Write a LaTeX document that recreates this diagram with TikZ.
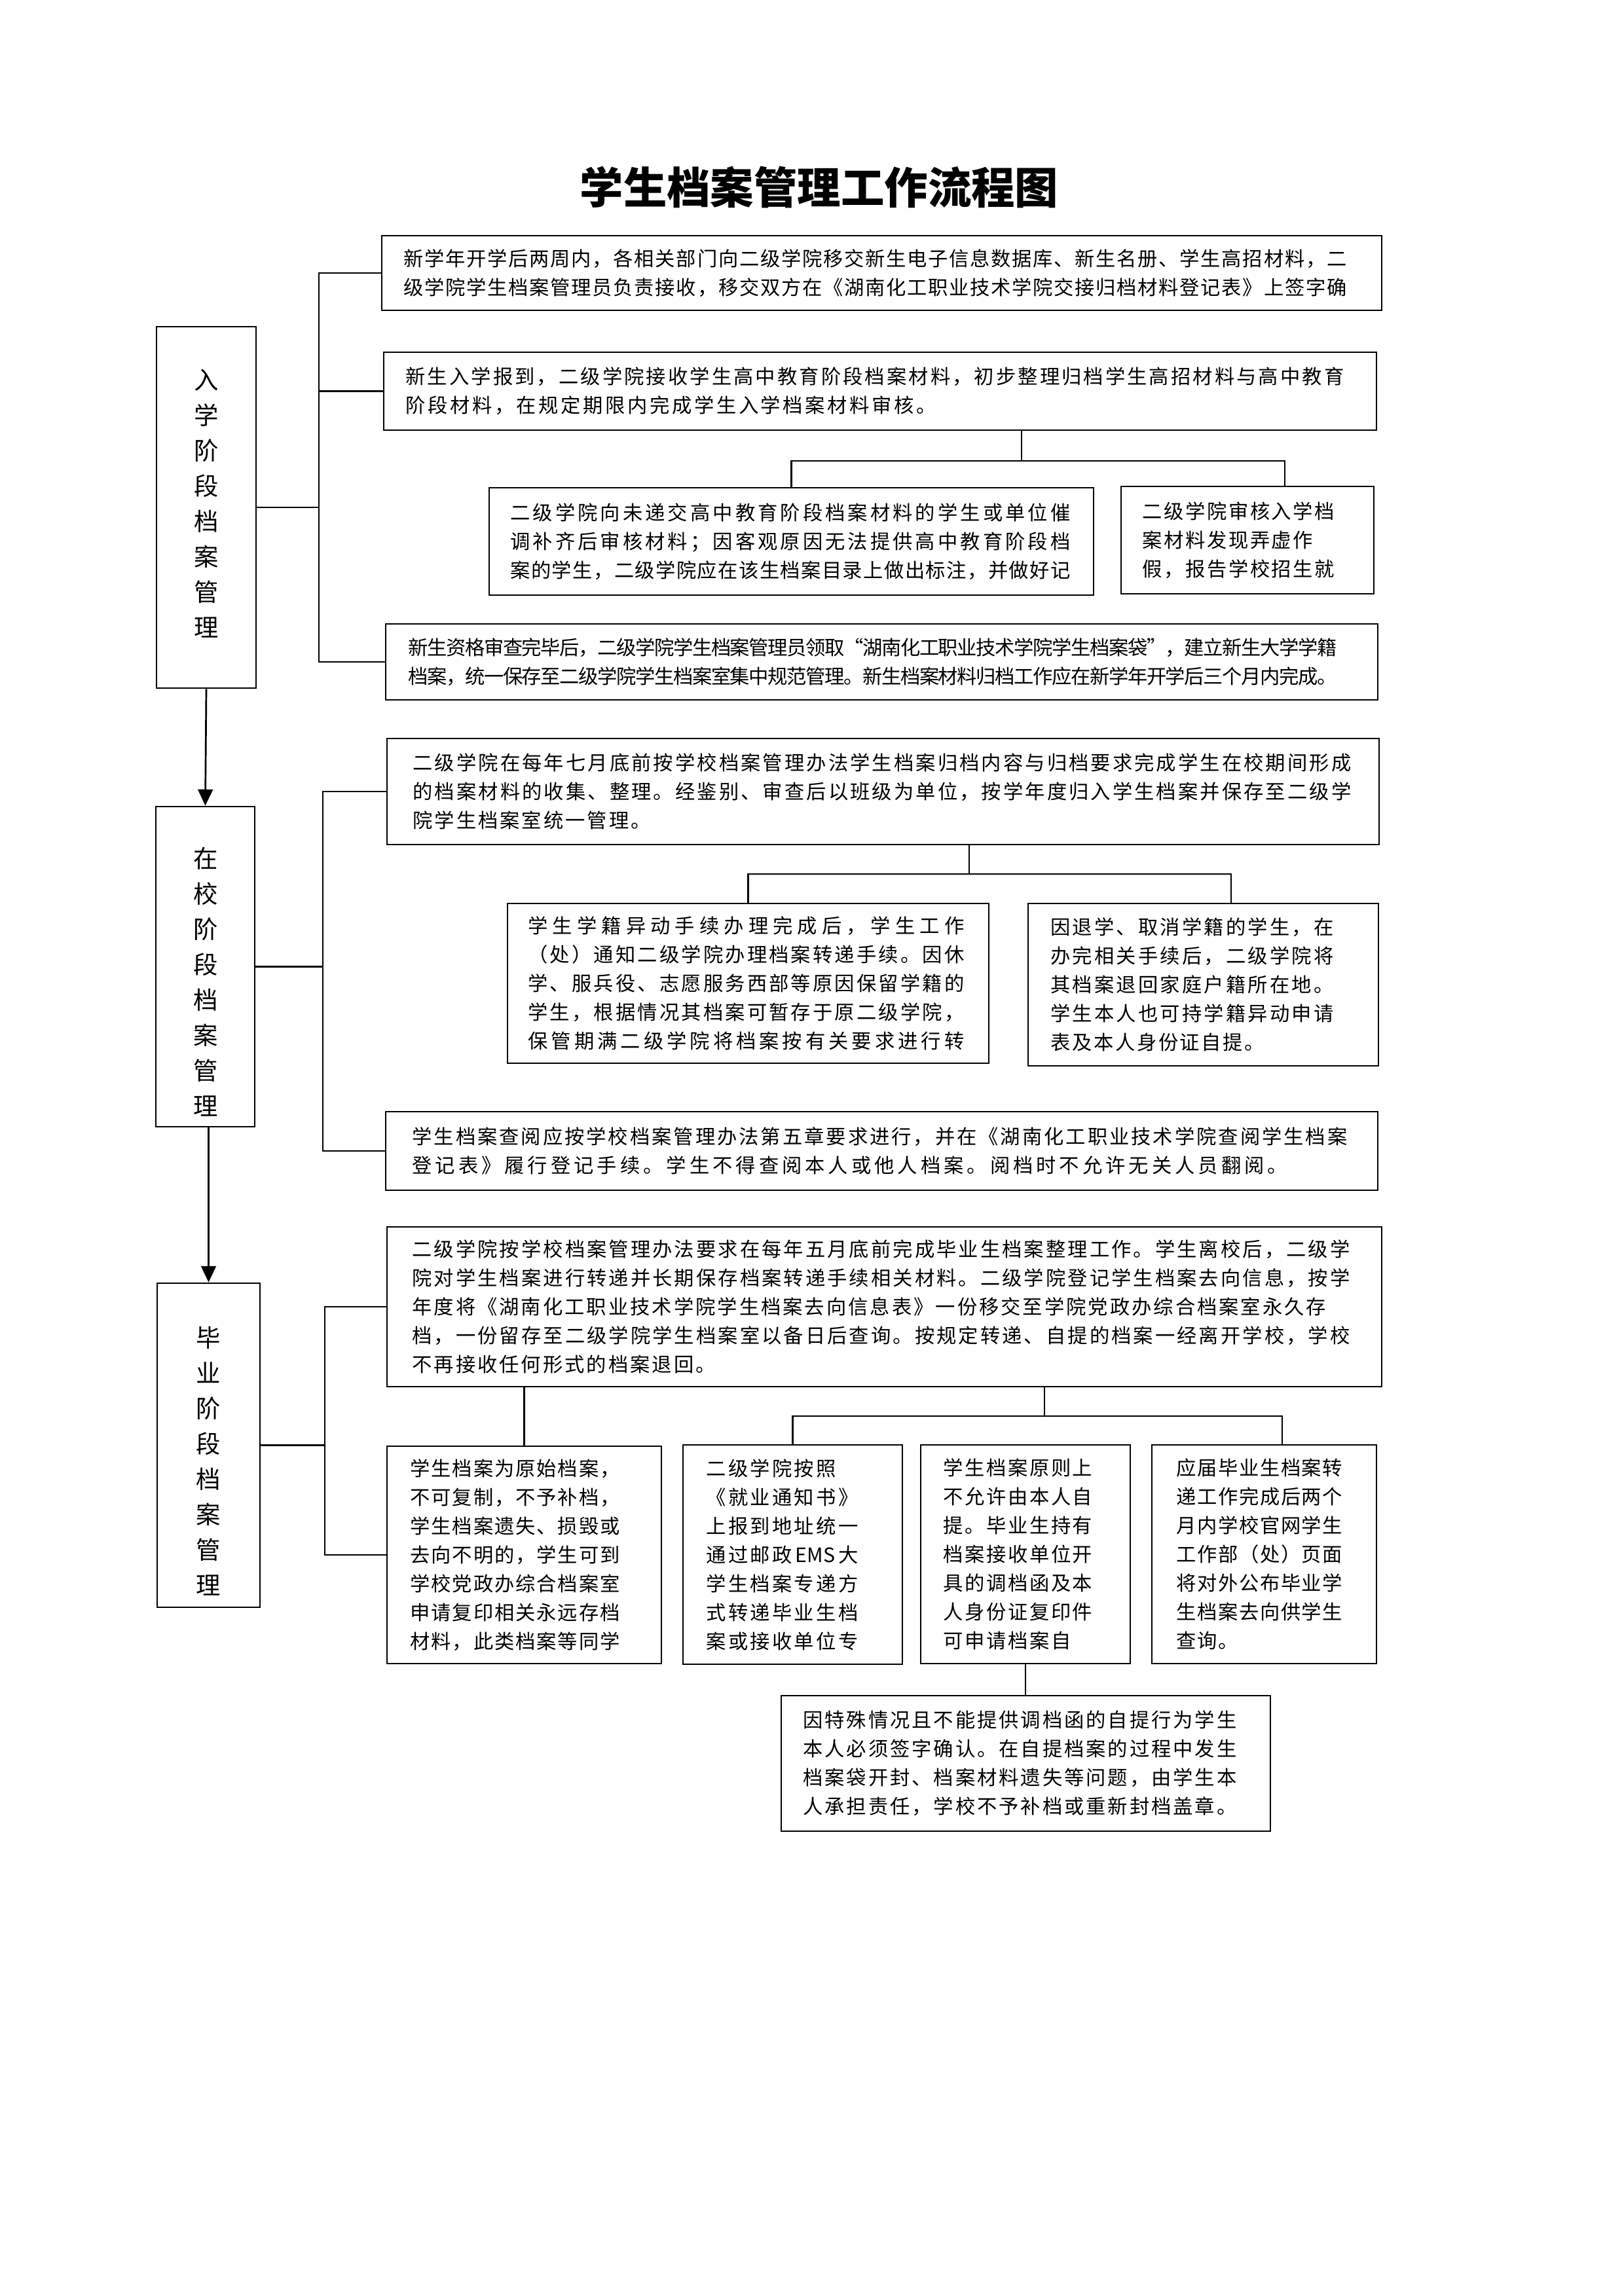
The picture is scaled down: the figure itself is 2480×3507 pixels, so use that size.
\documentclass[tikz,border=0pt]{standalone}
\usepackage{fontspec}
\setmainfont{Noto Sans CJK SC}
\usetikzlibrary{arrows.meta,fit}
\newdimen\px \px=0.24090pt
\newdimen\linew
\newdimen\trk
\def\spEnd{\spEnd}
\def\spA#1{\ifx#1\spEnd\else#1\expandafter\spB\fi}
\def\spB#1{\ifx#1\spEnd\else\spglue#1\expandafter\spB\fi}
\newcommand\FL[1]{\hbox to \linew{\def\spglue{\hskip 0pt plus 1fil minus 4\px}\spA#1\spEnd}}
\newcommand\LL[1]{\hbox{\def\spglue{\hskip\trk}\spA#1\spEnd}}
\def\EMS{\hbox to 64\px{\hss EMS\hss}}
\newcommand\TB[3]{\linew=#1\px\trk=#2\px\vbox{#3}}
\tikzset{
  box/.style={draw, line width=0.65pt, inner sep=0pt},
  txt/.style={inner sep=0pt, font=\fontsize{7.3pt}{10.6pt}\selectfont},
  vt/.style={inner sep=0pt, align=center, font=\fontsize{9pt}{13pt}\selectfont},
  con/.style={line width=0.65pt},
  arr/.style={line width=0.65pt, -{Triangle[length=6pt,width=5.5pt]}}
}
\begin{document}
\begin{tikzpicture}[x=0.24090pt,y=-0.24090pt]
\fill[white] (0,0) rectangle (2480,3507);
\useasboundingbox (0,0) rectangle (2480,3507);

\node[font=\fontsize{16pt}{16pt}\selectfont\bfseries] (title) at (1251,286) {学生档案管理工作流程图};

% ---------- boxes ----------
\node[box, fit={(583,360) (2110,474)}] (b1) {};
\node[box, fit={(586,538) (2102,657)}] (b2) {};
\node[box, fit={(747,745) (1670,909)}] (b3) {};
\node[box, fit={(1712,743) (2098,907)}] (b4) {};
\node[box, fit={(589,953) (2104,1069)}] (b5) {};
\node[box, fit={(239,499) (391,1051)}] (L1) {};

\node[box, fit={(591,1128) (2106,1290)}] (b6) {};
\node[box, fit={(775,1380) (1510,1624)}] (b7) {};
\node[box, fit={(1570,1380) (2105,1628)}] (b8) {};
\node[box, fit={(589,1698) (2104,1818)}] (b9) {};
\node[box, fit={(238,1232) (389,1721)}] (L2) {};

\node[box, fit={(591,1874) (2110,2118)}] (b10) {};
\node[box, fit={(240,1960) (397,2455)}] (L3) {};
\node[box, fit={(591,2209) (1010,2541)}] (b11) {};
\node[box, fit={(1043,2207) (1378,2542)}] (b12) {};
\node[box, fit={(1406,2207) (1726,2541)}] (b13) {};
\node[box, fit={(1759,2207) (2102,2541)}] (b14) {};
\node[box, fit={(1193,2590) (1940,2797)}] (b15) {};

% ---------- vertical labels ----------
\node[vt] (v1) at (315,769) {入\\学\\阶\\段\\档\\案\\管\\理};
\node[vt] (v2) at (314,1500) {在\\校\\阶\\段\\档\\案\\管\\理};
\node[vt] (v3) at (318,2232) {毕\\业\\阶\\段\\档\\案\\管\\理};

% ---------- texts ----------
\path (b1.west) ++(34,0) node[txt,anchor=west] (t1) {\TB{1440}{0}{%
\FL{新学年开学后两周内，各相关部门向二级学院移交新生电子信息数据库、新生名册、学生高招材料，二}
\FL{级学院学生档案管理员负责接收，移交双方在《湖南化工职业技术学院交接归档材料登记表》上签字确}}};

\path (b2.west) ++(34,0) node[txt,anchor=west] (t2) {\TB{1433}{3.6}{%
\FL{新生入学报到，二级学院接收学生高中教育阶段档案材料，初步整理归档学生高招材料与高中教育}
\LL{阶段材料，在规定期限内完成学生入学档案材料审核。}}};

\path (b3.west) ++(33,0) node[txt,anchor=west] (t3) {\TB{855}{0}{%
\FL{二级学院向未递交高中教育阶段档案材料的学生或单位催}
\FL{调补齐后审核材料；因客观原因无法提供高中教育阶段档}
\FL{案的学生，二级学院应在该生档案目录上做出标注，并做好记}}};

\path (b4.west) ++(33,0) node[txt,anchor=west] (t4) {\TB{300}{2.6}{%
\LL{二级学院审核入学档}
\LL{案材料发现弄虚作}
\LL{假，报告学校招生就}}};

\path (b5.west) ++(35,0) node[txt,anchor=west] (t5) {\TB{1418}{0}{%
\FL{新生资格审查完毕后，二级学院学生档案管理员领取“湖南化工职业技术学院学生档案袋”，建立新生大学学籍}
\FL{档案，统一保存至二级学院学生档案室集中规范管理。新生档案材料归档工作应在新学年开学后三个月内完成。}}};

\path (b6.west) ++(40,0) node[txt,anchor=west] (t6) {\TB{1433}{3}{%
\FL{二级学院在每年七月底前按学校档案管理办法学生档案归档内容与归档要求完成学生在校期间形成}
\FL{的档案材料的收集、整理。经鉴别、审查后以班级为单位，按学年度归入学生档案并保存至二级学}
\LL{院学生档案室统一管理。}}};

\path (b7.west) ++(32,0) node[txt,anchor=west] (t7) {\TB{666}{0}{%
\FL{学生学籍异动手续办理完成后，学生工作}
\FL{（处）通知二级学院办理档案转递手续。因休}
\FL{学、服兵役、志愿服务西部等原因保留学籍的}
\FL{学生，根据情况其档案可暂存于原二级学院，}
\FL{保管期满二级学院将档案按有关要求进行转}}};

\path (b8.west) ++(35,0) node[txt,anchor=west] (t8) {\TB{432}{2.6}{%
\FL{因退学、取消学籍的学生，在}
\FL{办完相关手续后，二级学院将}
\FL{其档案退回家庭户籍所在地。}
\FL{学生本人也可持学籍异动申请}
\LL{表及本人身份证自提。}}};

\path (b9.west) ++(41,0) node[txt,anchor=west] (t9) {\TB{1428}{5}{%
\FL{学生档案查阅应按学校档案管理办法第五章要求进行，并在《湖南化工职业技术学院查阅学生档案}
\LL{登记表》履行登记手续。学生不得查阅本人或他人档案。阅档时不允许无关人员翻阅。}}};

\path (b10.west) ++(39,0) node[txt,anchor=west] (t10) {\TB{1432}{3}{%
\FL{二级学院按学校档案管理办法要求在每年五月底前完成毕业生档案整理工作。学生离校后，二级学}
\FL{院对学生档案进行转递并长期保存档案转递手续相关材料。二级学院登记学生档案去向信息，按学}
\LL{年度将《湖南化工职业技术学院学生档案去向信息表》一份移交至学院党政办综合档案室永久存}
\FL{档，一份留存至二级学院学生档案室以备日后查询。按规定转递、自提的档案一经离开学校，学校}
\LL{不再接收任何形式的档案退回。}}};

\path (b11.west) ++(36,0) node[txt,anchor=west] (t11) {\TB{320}{1.9}{%
\LL{学生档案为原始档案，}
\LL{不可复制，不予补档，}
\LL{学生档案遗失、损毁或}
\LL{去向不明的，学生可到}
\LL{学校党政办综合档案室}
\LL{申请复印相关永远存档}
\LL{材料，此类档案等同学}}};

\path (b12.west) ++(36,0) node[txt,anchor=west] (t12) {\TB{232}{3.3}{%
\LL{二级学院按照}
\LL{《就业通知书》}
\LL{上报到地址统一}
\LL{通过邮政\EMS 大}
\LL{学生档案专递方}
\LL{式转递毕业生档}
\LL{案或接收单位专}}};

\path (b13.west) ++(35,0) node[txt,anchor=west] (t13) {\TB{228}{2.6}{%
\LL{学生档案原则上}
\LL{不允许由本人自}
\LL{提。毕业生持有}
\LL{档案接收单位开}
\LL{具的调档函及本}
\LL{人身份证复印件}
\LL{可申请档案自}}};

\path (b14.west) ++(38,0) node[txt,anchor=west] (t14) {\TB{253}{1.6}{%
\LL{应届毕业生档案转}
\LL{递工作完成后两个}
\LL{月内学校官网学生}
\LL{工作部（处）页面}
\LL{将对外公布毕业学}
\LL{生档案去向供学生}
\LL{查询。}}};

\path (b15.west) ++(34,0) node[txt,anchor=west] (t15) {\TB{662}{0}{%
\FL{因特殊情况且不能提供调档函的自提行为学生}
\FL{本人必须签字确认。在自提档案的过程中发生}
\FL{档案袋开封、档案材料遗失等问题，由学生本}
\FL{人承担责任，学校不予补档或重新封档盖章。}}};

% ---------- connectors: section 1 ----------
\coordinate (k1) at (487,0);
\draw[con] (b1.west) -| (k1 |- b5.west) -- (b5.west);
\draw[con] (b2.west) -- (b2.west -| k1);
\draw[con] (L1.east) -- (L1.east -| k1);
\coordinate (j1) at (1560,704);
\coordinate (j1a) at (1962,704);
\draw[con] (j1 |- b2.south) -- (j1);
\draw[con] (b3.north) |- (j1a) -- (j1a |- b4.north);
\draw[arr] (L1.south) -- (L2.north);

% ---------- connectors: section 2 ----------
\coordinate (k2) at (493,0);
\draw[con] (b6.west) -| (k2 |- b9.west) -- (b9.west);
\draw[con] (L2.east) -- (L2.east -| k2);
\coordinate (j2) at (1480,1335);
\coordinate (j2a) at (1880,1335);
\draw[con] (j2 |- b6.south) -- (j2);
\draw[con] (b7.north) |- (j2a) -- (j2a |- b8.north);
\draw[arr] (L3.north |- L2.south) -- (L3.north);

% ---------- connectors: section 3 ----------
\coordinate (k3) at (496,0);
\draw[con] (b10.west) -| (k3 |- b11.west) -- (b11.west);
\draw[con] (L3.east) -- (L3.east -| k3);
\draw[con] (b11.north |- b10.south) -- (b11.north);
\coordinate (j3) at (1595,2163);
\coordinate (j3a) at (1958,2163);
\draw[con] (j3 |- b10.south) -- (j3);
\draw[con] (b12.north) |- (j3a) -- (j3a |- b14.north);
\draw[con] (b13.south) -- (b13.south |- b15.north);
\end{tikzpicture}
\end{document}
